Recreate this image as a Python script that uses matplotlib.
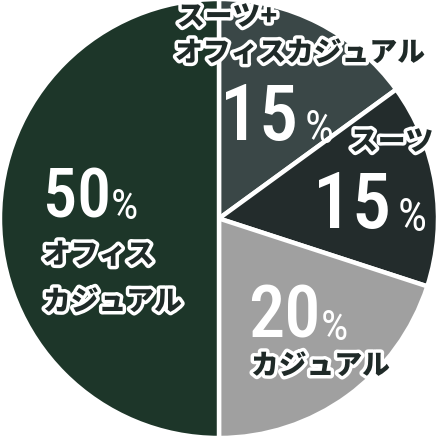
import matplotlib
matplotlib.use("Agg")
import matplotlib.pyplot as plt
import matplotlib.patheffects as pe

# data
segments = ["スーツ+\nオフィスカジュアル", "スーツ", "カジュアル", "オフィス\nカジュアル"]
shares = [15, 15, 20, 50]
colors = ["#3a4747", "#232c2c", "#a0a0a0", "#1d3629"]

W, H = 438, 439
fig = plt.figure(figsize=(W / 100, H / 100), dpi=100)
ax = fig.add_axes([0, 0, 1, 1])
ax.pie(shares, colors=colors, startangle=90, counterclock=False, radius=1,
       wedgeprops=dict(edgecolor="white", linewidth=3.2))
ax.set_xlim(-1, 1)
ax.set_ylim(-1, 1)
ax.set_aspect("auto")
ax.axis("off")

num_font = ["Roboto Condensed", "Roboto"]
jp_font = ["Noto Sans CJK JP", "DejaVu Sans"]
stroke = [pe.withStroke(linewidth=5, foreground="white")]


def px(x, y):
    return x / W, 1 - y / H


# (number left x, baseline y, number size, percent size, gap before %)
num_pos = [(220, 140, 56, 33, 5), (313, 228, 56, 33, 5),
           (248, 338, 52, 31, 0), (43, 218, 49, 31, 0)]
# label line positions: (left x, center y)
label_pos = [[(177, 18), (175, 54)], [(350, 143)], [(251, 367)], [(43, 256), (43, 303)]]

for v, (nx, ny, ns, ps, gap), lines, lp in zip(shares, num_pos, segments, label_pos):
    t = ax.text(*px(nx, ny), str(v), transform=ax.transAxes, family=num_font,
                fontsize=ns, fontweight="medium", color="white",
                ha="left", va="baseline")
    ax.annotate("%", xy=(1, 0), xycoords=t, xytext=(gap, 3),
                textcoords="offset points", family=num_font, fontsize=ps,
                color="white", ha="left", va="bottom")
    for line, (lx, ly) in zip(lines.split("\n"), lp):
        ax.text(*px(lx, ly), line, transform=ax.transAxes, family=jp_font,
                fontsize=20, fontweight="heavy", color="#1f2a28",
                ha="left", va="center", path_effects=stroke)

fig.savefig("out.png", dpi=100)
